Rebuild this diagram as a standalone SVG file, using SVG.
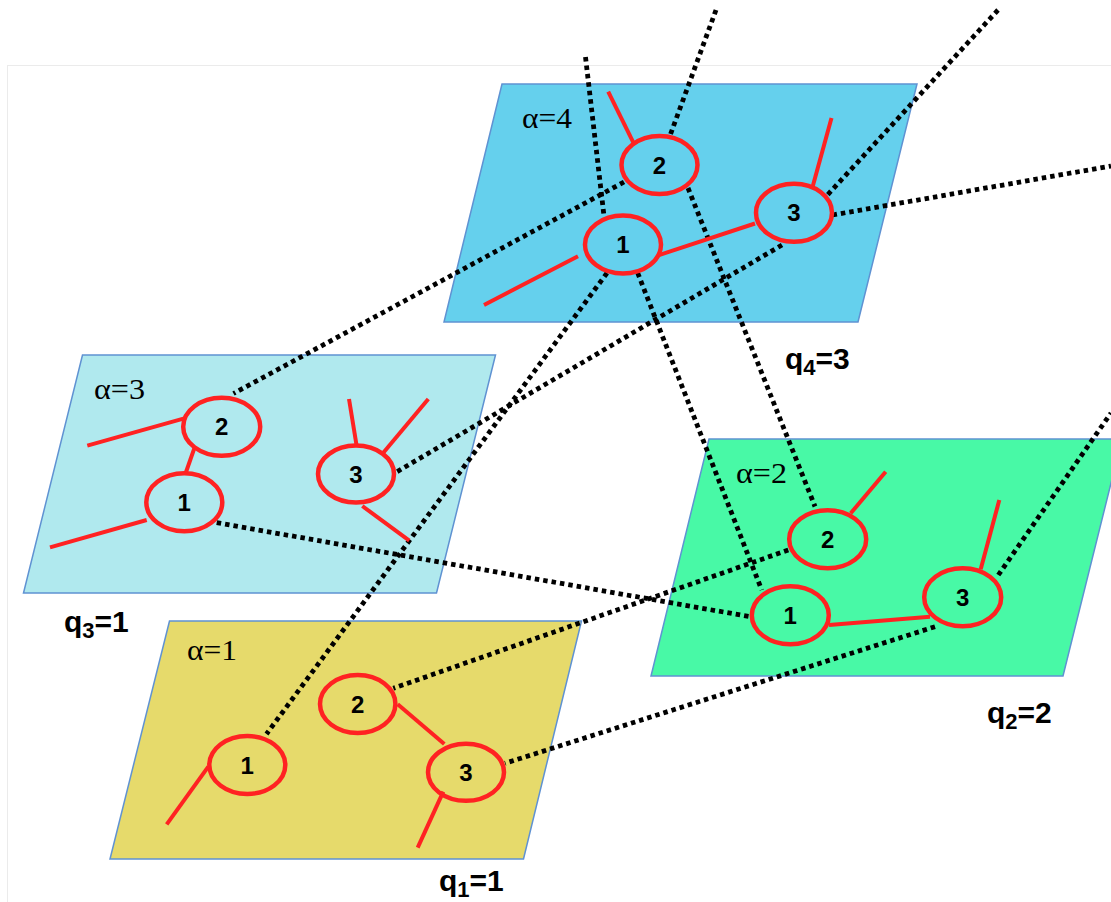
<svg xmlns="http://www.w3.org/2000/svg" width="1111" height="902" viewBox="0 0 1111 902">
<style>
.plane{stroke:#5f92d2;stroke-width:1.5}
.alpha{font-family:"Liberation Serif",serif;font-size:29px;fill:#000}
.q{font-family:"Liberation Sans",Arial,sans-serif;font-size:30px;font-weight:bold;fill:#000}
.sub{font-size:22px}
.dot{fill:none;stroke:#000;stroke-width:4.8;stroke-dasharray:4.5 4}
.node ellipse{fill:none;stroke:#ff2222;stroke-width:4.5}
.node line{stroke:#ff2222;stroke-width:4;stroke-linecap:butt}
.node text{font-family:"Liberation Sans",Arial,sans-serif;font-size:24px;font-weight:bold;text-anchor:middle;fill:#000}
</style>
<rect x="0" y="0" width="1111" height="902" fill="#fff"/>
<rect x="7.5" y="65.5" width="1200" height="900" fill="#fff" stroke="#ebebeb" stroke-width="1"/>

<g id="plane4">
<polygon class="plane" fill="#65d0ed" points="502,84 917,84 858,322 444,322"/>
<text class="alpha" x="522" y="128" textLength="50" lengthAdjust="spacingAndGlyphs">α=4</text>
</g>
<g id="plane3">
<polygon class="plane" fill="#b0e9ee" points="82.5,355 495.5,355 436.5,593 23.5,593"/>
<text class="alpha" x="94" y="399" textLength="51" lengthAdjust="spacingAndGlyphs">α=3</text>
</g>
<g id="plane2">
<polygon class="plane" fill="#48f9a6" points="709,439 1122,439 1063,676 651,676"/>
<text class="alpha" x="736" y="483" textLength="51" lengthAdjust="spacingAndGlyphs">α=2</text>
</g>
<g id="plane1">
<polygon class="plane" fill="#e6da6b" points="169.5,621 581.5,621 523.5,859 110,859"/>
<text class="alpha" x="187" y="660" textLength="50" lengthAdjust="spacingAndGlyphs">α=1</text>
</g>

<g id="qlabels">
<text class="q" x="785" y="369">q<tspan class="sub" dy="6">4</tspan><tspan dy="-6">=3</tspan></text>
<text class="q" x="64" y="632">q<tspan class="sub" dy="6">3</tspan><tspan dy="-6">=1</tspan></text>
<text class="q" x="987" y="723">q<tspan class="sub" dy="6">2</tspan><tspan dy="-6">=2</tspan></text>
<text class="q" x="439" y="891">q<tspan class="sub" dy="6">1</tspan><tspan dy="-6">=1</tspan></text>
</g>

<g id="connectors">
<line class="dot" x1="585.5" y1="57" x2="604" y2="216"/>
<line class="dot" x1="716" y1="10" x2="669.5" y2="137"/>
<line class="dot" x1="998" y1="10" x2="826.5" y2="196"/>
<line class="dot" x1="832.5" y1="215" x2="1111" y2="166"/>
<line class="dot" x1="624" y1="182" x2="233.5" y2="393.5"/>
<line class="dot" x1="782" y1="245" x2="396.5" y2="472"/>
<line class="dot" x1="607" y1="273" x2="266.5" y2="734"/>
<line class="dot" x1="637.7" y1="273" x2="761.7" y2="590"/>
<line class="dot" x1="688" y1="188" x2="815" y2="506.5"/>
<line class="dot" x1="216.7" y1="522.7" x2="750" y2="616.7"/>
<line class="dot" x1="788.3" y1="550" x2="393.3" y2="688.3"/>
<line class="dot" x1="935" y1="626.7" x2="505" y2="763.3"/>
<line class="dot" x1="998.3" y1="575" x2="1111" y2="413"/>
</g>

<g id="n4-1" class="node">
<ellipse cx="623" cy="244.5" rx="38" ry="29"/>
<line x1="484" y1="305" x2="578" y2="256.3"/>
<line x1="658.2" y1="255.3" x2="755" y2="223.5"/>
<text x="623" y="253">1</text>
</g>
<g id="n4-2" class="node">
<ellipse cx="659.5" cy="165" rx="38" ry="29"/>
<line x1="608.2" y1="91.7" x2="633.4" y2="142.7"/>
<text x="659.5" y="174">2</text>
</g>
<g id="n4-3" class="node">
<ellipse cx="794" cy="212.7" rx="38" ry="29"/>
<line x1="812.7" y1="186.5" x2="831.5" y2="118"/>
<text x="794" y="221">3</text>
</g>

<g id="n3-1" class="node">
<ellipse cx="184.3" cy="502.3" rx="38" ry="29"/>
<line x1="50" y1="547.3" x2="146.7" y2="520"/>
<text x="184.3" y="510.5">1</text>
</g>
<g id="n3-2" class="node">
<ellipse cx="221.7" cy="426.7" rx="38.5" ry="29"/>
<line x1="87.3" y1="445.7" x2="184.3" y2="418.3"/>
<line x1="194.3" y1="448.3" x2="185.7" y2="473"/>
<text x="221.7" y="435">2</text>
</g>
<g id="n3-3" class="node">
<ellipse cx="356" cy="474" rx="38" ry="28.5"/>
<line x1="349" y1="399" x2="356.5" y2="445"/>
<line x1="428.3" y1="399" x2="383.3" y2="452.7"/>
<line x1="362.3" y1="506" x2="409.3" y2="540.7"/>
<text x="356" y="482.5">3</text>
</g>

<g id="n2-1" class="node">
<ellipse cx="790.3" cy="615.3" rx="38.5" ry="29"/>
<line x1="829" y1="625" x2="930" y2="616.7"/>
<text x="790.3" y="623.5">1</text>
</g>
<g id="n2-2" class="node">
<ellipse cx="827.7" cy="539.3" rx="38.5" ry="29"/>
<line x1="850.7" y1="513.3" x2="885.7" y2="471.7"/>
<text x="827.7" y="547.5">2</text>
</g>
<g id="n2-3" class="node">
<ellipse cx="962.7" cy="597.3" rx="38.5" ry="29"/>
<line x1="980.7" y1="569.3" x2="999.3" y2="500"/>
<text x="962.7" y="605.5">3</text>
</g>

<g id="n1-1" class="node">
<ellipse cx="247.3" cy="765" rx="38" ry="29"/>
<line x1="208.3" y1="766.7" x2="166.7" y2="824.3"/>
<text x="247.3" y="773.5">1</text>
</g>
<g id="n1-2" class="node">
<ellipse cx="357.7" cy="704" rx="37.7" ry="29"/>
<line x1="397.7" y1="704.3" x2="444.3" y2="744"/>
<text x="357.7" y="712.5">2</text>
</g>
<g id="n1-3" class="node">
<ellipse cx="466" cy="772.3" rx="38" ry="28.5"/>
<line x1="443.3" y1="791.7" x2="417.7" y2="847.7"/>
<text x="466" y="780.5">3</text>
</g>
</svg>
